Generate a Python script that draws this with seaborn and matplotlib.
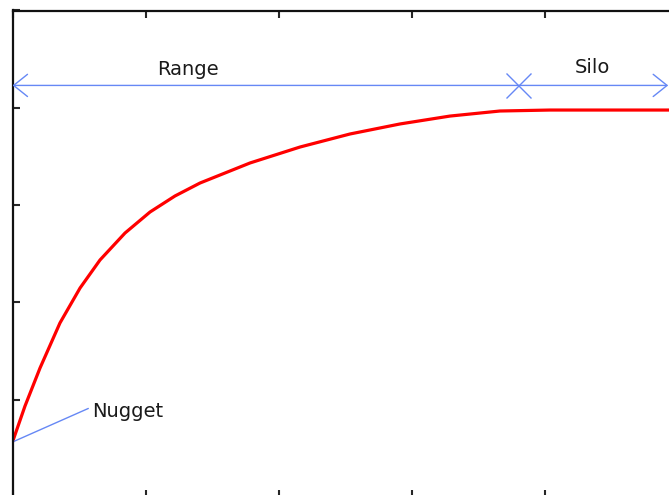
import numpy as np
import pandas as pd
import matplotlib
matplotlib.use("Agg")
import matplotlib.pyplot as plt
import seaborn as sns

# =========================
# Data
# =========================
lag = [0.0, 0.094, 0.207, 0.357, 0.508, 0.658, 0.846, 1.034, 1.222,
       1.410, 1.786, 2.162, 2.538, 2.914, 3.289, 3.665, 4.041, 5.0]
gamma = [0.565, 0.935, 1.326, 1.789, 2.148, 2.436, 2.713, 2.929, 3.094,
         3.227, 3.433, 3.597, 3.731, 3.834, 3.915, 3.967, 3.977, 3.977]

nugget = 0.565
range_end = 3.80
x_max = 4.93
arrow_y = 4.23
labels = ["Range", "Silo", "Nugget"]

df = pd.DataFrame({"lag": lag, "gamma": gamma})

# =========================
# Plot
# =========================
sns.set_style("white")
plt.rcParams["font.family"] = ["DejaVu Sans"]

fig = plt.figure(figsize=(6.69, 4.95), dpi=100)
ax = fig.add_axes([12.5 / 669, 1 - 10.5 / 495 - 5 * 97.3 / 495,
                   5 * 133 / 669, 5 * 97.3 / 495])

sns.lineplot(data=df, x="lag", y="gamma", color="red", linewidth=2.3, ax=ax)

blue = "#6688f5"
# range / sill arrow
ax.annotate("", xy=(0.0, arrow_y), xytext=(x_max, arrow_y),
            arrowprops=dict(arrowstyle="<->,head_length=1.0,head_width=0.8",
                            color=blue, lw=1.0, shrinkA=0, shrinkB=0))
ax.plot([range_end], [arrow_y], marker="x", markersize=18, color=blue,
        markeredgewidth=1.0)
ax.text(1.32, arrow_y + 0.07, labels[0], fontsize=14, color="#1a1a1a",
        ha="center", va="bottom")
ax.text(4.36, arrow_y + 0.09, labels[1], fontsize=14, color="#1a1a1a",
        ha="center", va="bottom")

# nugget pointer
ax.plot([0.0, 0.57], [nugget, 0.91], color=blue, lw=1.0)
ax.text(0.60, 0.88, labels[2], fontsize=14, color="#1a1a1a",
        ha="left", va="center")

ax.set_xlim(0, 5)
ax.set_ylim(0, 5)
ax.set_xticks(np.arange(0, 6, 1))
ax.set_yticks(np.arange(0, 6, 1))
ax.tick_params(direction="in", length=5, width=1.5, top=True, right=True,
               bottom=True, left=True, labelbottom=False, labelleft=False)
for s in ax.spines.values():
    s.set_color("#111111")
    s.set_linewidth(1.6)
ax.set_xlabel("")
ax.set_ylabel("")

fig.savefig("out.png", dpi=100)
